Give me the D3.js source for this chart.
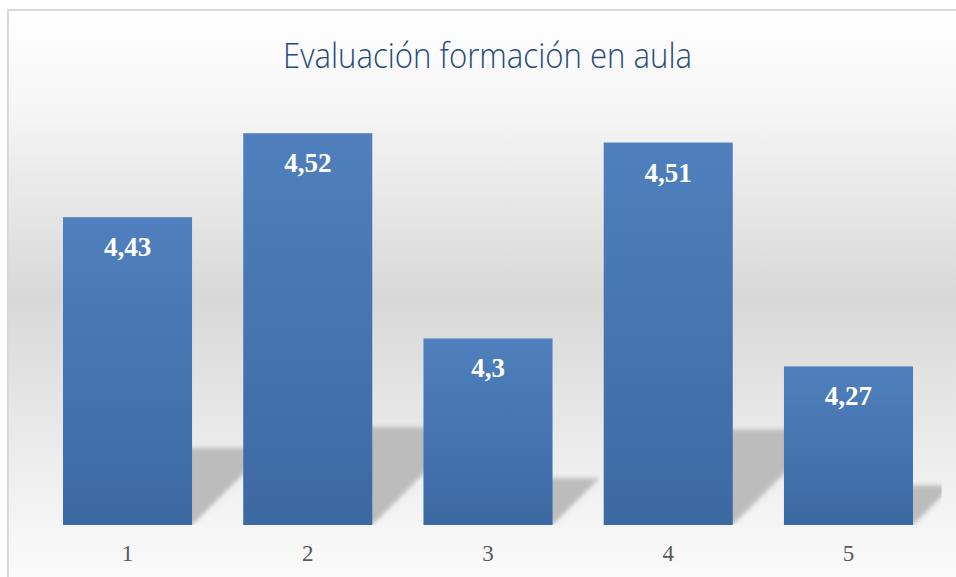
<!DOCTYPE html>
<html>
<head>
<meta charset="utf-8">
<script src="https://cdn.jsdelivr.net/npm/d3@7.9.0/dist/d3.min.js"></script>
<style>
  html, body { margin: 0; padding: 0; background: #fff; }
  svg { display: block; }
</style>
</head>
<body>
<svg id="chart" width="956" height="577"></svg>
<script>
const title = "Evaluación formación en aula";
const categories = ["1", "2", "3", "4", "5"];
const values = [4.43, 4.52, 4.3, 4.51, 4.27];
const yDomain = [4.1, 4.6];

const width = 956, height = 577;
const plot = { left: 37.4, right: 938.6, top: 58.6, bottom: 525 };

const svg = d3.select("#chart");
const defs = svg.append("defs");

// chart background: white -> grey -> white
const bg = defs.append("linearGradient")
  .attr("id", "bg").attr("x1", 0).attr("y1", 0).attr("x2", 0).attr("y2", 1);
[[0, "#ffffff"], [0.16, "#f6f6f6"], [0.49, "#d8d8d8"], [0.88, "#f5f5f5"], [1, "#fdfdfd"]]
  .forEach(([o, c]) => bg.append("stop").attr("offset", o).attr("stop-color", c));

const barGrad = defs.append("linearGradient")
  .attr("id", "barGrad").attr("x1", 0).attr("y1", 0).attr("x2", 0).attr("y2", 1);
barGrad.append("stop").attr("offset", 0).attr("stop-color", "#4f80bd");
barGrad.append("stop").attr("offset", 1).attr("stop-color", "#3c69a2");

const blur = defs.append("filter").attr("id", "blur")
  .attr("x", "-20%").attr("y", "-20%").attr("width", "140%").attr("height", "140%");
blur.append("feGaussianBlur").attr("stdDeviation", 2.2);

defs.append("clipPath").attr("id", "plotClip")
  .append("rect")
  .attr("x", plot.left).attr("y", 0)
  .attr("width", plot.right - plot.left + 3).attr("height", plot.bottom);

svg.append("rect")
  .attr("x", 8).attr("y", 10)
  .attr("width", width + 10).attr("height", height + 10)
  .attr("fill", "url(#bg)")
  .attr("stroke", "#d9d9d9").attr("stroke-width", 2);

const x = d3.scaleBand()
  .domain(categories)
  .range([plot.left, plot.right])
  .paddingInner(0.284)
  .paddingOuter(0.142);

const y = d3.scaleLinear().domain(yDomain).range([plot.bottom, plot.top]);

const data = categories.map((c, i) => ({ cat: c, value: values[i] }));

// perspective shadows behind the bars
svg.append("g")
  .attr("clip-path", "url(#plotClip)")
  .selectAll("path")
  .data(data)
  .join("path")
  .attr("d", (d) => {
    const x0 = x(d.cat), x1 = x0 + x.bandwidth();
    const base = y(yDomain[0]);
    const h = (base - y(d.value)) * 0.25;
    return `M${x0},${base}L${x1},${base}L${x1 + h},${base - h}L${x0 + h},${base - h}Z`;
  })
  .attr("fill", "#bcbcbc")
  .attr("filter", "url(#blur)");

svg.append("g")
  .selectAll("rect")
  .data(data)
  .join("rect")
  .attr("x", (d) => x(d.cat))
  .attr("y", (d) => y(d.value))
  .attr("width", x.bandwidth())
  .attr("height", (d) => y(yDomain[0]) - y(d.value))
  .attr("fill", "url(#barGrad)");

svg.append("g")
  .selectAll("text")
  .data(data)
  .join("text")
  .attr("x", (d) => x(d.cat) + x.bandwidth() / 2)
  .attr("y", (d) => y(d.value) + 39)
  .attr("text-anchor", "middle")
  .attr("font-family", "'Liberation Serif', 'DejaVu Serif', serif")
  .attr("font-weight", "bold")
  .attr("font-size", 27)
  .attr("fill", "#ffffff")
  .text((d) => String(d.value).replace(".", ","));

// category axis
const xAxis = svg.append("g")
  .attr("transform", `translate(0,${plot.bottom})`)
  .call(d3.axisBottom(x).tickSize(0).tickPadding(20));
xAxis.select(".domain").remove();
xAxis.selectAll("text")
  .attr("font-family", "'Liberation Serif', 'DejaVu Serif', serif")
  .attr("font-size", 23)
  .attr("fill", "#595959");

svg.append("text")
  .attr("x", 487.5)
  .attr("y", 68)
  .attr("text-anchor", "middle")
  .attr("font-family", "'Open Sans', 'Noto Sans', sans-serif")
  .attr("font-weight", 300)
  .attr("font-size", 34)
  .attr("textLength", 409)
  .attr("lengthAdjust", "spacingAndGlyphs")
  .attr("fill", "#254a7c")
  .text(title);
</script>
</body>
</html>
